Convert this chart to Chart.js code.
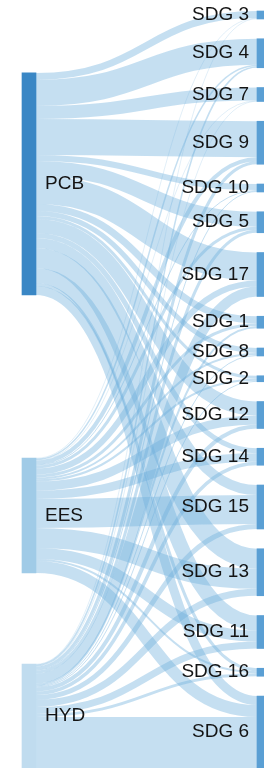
<!DOCTYPE html>
<html>
<head>
<meta charset="utf-8">
<script src="https://cdn.jsdelivr.net/npm/chart.js@4"></script>
<style>
  html, body { margin: 0; padding: 0; background: #fff; overflow: hidden; }
  canvas { display: block; }
</style>
</head>
<body>
<canvas id="sankey_chart" width="264" height="768"></canvas>
<script>
// Data
const sources = ['PCB', 'EES', 'HYD'];
const targets = ['SDG 3', 'SDG 4', 'SDG 7', 'SDG 9', 'SDG 10', 'SDG 5', 'SDG 17', 'SDG 1', 'SDG 8',
  'SDG 2', 'SDG 12', 'SDG 14', 'SDG 15', 'SDG 13', 'SDG 11', 'SDG 16', 'SDG 6'];

// flow from each source to each target (same order as targets)
const pcbFlows = [7, 26, 13, 36, 6, 15, 28, 7, 5, 3, 14, 5, 10, 20, 15, 3, 9];
const eesFlows = [0.5, 1.5, 0.5, 4, 1, 3, 6, 3, 2, 2, 9, 8.5, 29, 20, 11, 2, 12];
const hydFlows = [0.5, 1.5, 0.5, 3, 1, 3, 10, 2, 1, 1, 4, 3.5, 5, 7, 7, 3, 51];

// Layout
const flows = [pcbFlows, eesFlows, hydFlows];
const sum = arr => arr.reduce((s, v) => s + v, 0);
const srcTotals = flows.map(sum);
const tgtTotals = targets.map((t, j) => sum(flows.map(f => f[j])));

const TOP = 11;
const BOTTOM = 768;
const LEFT_X = [22, 36];
const RIGHT_X = [257, 271];

// right column is packed with an even gap
const gap = (BOTTOM - TOP - sum(tgtTotals)) / (targets.length - 1);
let yPos = TOP;
const tgtNodes = tgtTotals.map(v => {
  const node = { y0: yPos, y1: yPos + v };
  yPos = node.y1 + gap;
  return node;
});

// left column: free space shared out above / between the source nodes
const leftSpace = [0.196, 0.516, 0.288];
const freeLeft = BOTTOM - TOP - sum(srcTotals);
yPos = TOP;
const srcNodes = srcTotals.map((v, i) => {
  yPos += freeLeft * leftSpace[i];
  const node = { y0: yPos, y1: yPos + v };
  yPos = node.y1;
  return node;
});

const srcColors = ['#3a87c5', '#a0cbe7', '#c0dcef'];
const tgtColor = '#5a9fd4';
const linkColor = 'rgba(110, 175, 220, 0.4)';
const labelFont = '19px "Liberation Sans", Arial, sans-serif';

const nodeBars = [];
const nodeColors = [];
srcNodes.forEach((n, i) => {
  nodeBars.push({ x: (LEFT_X[0] + LEFT_X[1]) / 2, y: [n.y0, n.y1] });
  nodeColors.push(srcColors[i]);
});
tgtNodes.forEach(n => {
  nodeBars.push({ x: (RIGHT_X[0] + RIGHT_X[1]) / 2, y: [n.y0, n.y1] });
  nodeColors.push(tgtColor);
});

// links drawn under the node bars
const sankeyLinks = {
  id: 'sankeyLinks',
  beforeDatasetsDraw(chart) {
    const { ctx, scales: { x, y } } = chart;
    const x0 = x.getPixelForValue(LEFT_X[1]);
    const x1 = x.getPixelForValue(RIGHT_X[0]);
    const xm = (x0 + x1) / 2;
    const tgtOffset = tgtNodes.map(n => n.y0);

    ctx.save();
    ctx.strokeStyle = linkColor;
    ctx.lineCap = 'butt';
    flows.forEach((row, i) => {
      let sy = srcNodes[i].y0;
      row.forEach((w, j) => {
        if (!w) return;
        const ty = tgtOffset[j];
        const ys = y.getPixelForValue(sy + w / 2);
        const yt = y.getPixelForValue(ty + w / 2);
        ctx.lineWidth = Math.abs(y.getPixelForValue(w) - y.getPixelForValue(0));
        ctx.beginPath();
        ctx.moveTo(x0, ys);
        ctx.bezierCurveTo(xm, ys, xm, yt, x1, yt);
        ctx.stroke();
        sy += w;
        tgtOffset[j] += w;
      });
    });
    ctx.restore();
  },
  afterDatasetsDraw(chart) {
    const { ctx, scales: { x, y } } = chart;
    ctx.save();
    ctx.font = labelFont;
    ctx.fillStyle = '#141414';
    ctx.textBaseline = 'middle';

    ctx.textAlign = 'left';
    srcNodes.forEach((n, i) => {
      ctx.fillText(sources[i], x.getPixelForValue(LEFT_X[1]) + 9, y.getPixelForValue((n.y0 + n.y1) / 2));
    });

    ctx.textAlign = 'right';
    tgtNodes.forEach((n, j) => {
      ctx.fillText(targets[j], x.getPixelForValue(RIGHT_X[0]) - 8, y.getPixelForValue((n.y0 + n.y1) / 2));
    });
    ctx.restore();
  }
};

new Chart(document.getElementById('sankey_chart'), {
  type: 'bar',
  data: {
    datasets: [{
      data: nodeBars,
      backgroundColor: nodeColors,
      borderWidth: 0,
      barThickness: 14
    }]
  },
  options: {
    responsive: false,
    animation: false,
    events: [],
    layout: { padding: 0 },
    plugins: {
      legend: { display: false },
      tooltip: { enabled: false }
    },
    scales: {
      x: { type: 'linear', display: false, offset: false, min: 0, max: 264 },
      y: { type: 'linear', display: false, min: 0, max: 768, reverse: true }
    }
  },
  plugins: [sankeyLinks]
});
</script>
</body>
</html>
